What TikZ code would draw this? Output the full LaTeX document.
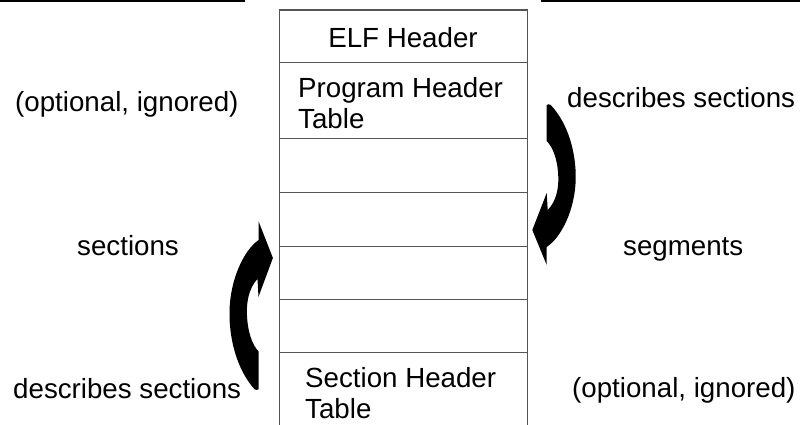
\documentclass[tikz,border=0pt]{standalone}
\usepackage{fontspec}
\setmainfont{Liberation Sans}
\definecolor{boxgray}{RGB}{85,85,85}
\tikzset{x=1pt,y=-1pt}
\tikzset{cell/.style={draw=boxgray,line width=1.4pt,minimum width=248pt,inner sep=0pt,anchor=north west}}
\tikzset{lbl/.style={inner sep=0pt,anchor=base west,font=\fontsize{27.7}{31}\selectfont}}
\tikzset{blocklbl/.style={inner sep=0pt,anchor=north west,align=left,font=\fontsize{27.7}{31}\selectfont}}
\tikzset{bentarrow/.pic={
	\fill (0,-124) .. controls (1,-125) and (3,-125) .. (4,-124) .. controls (22,-105) and (29.5,-75) .. (29,-50)
		.. controls (28.5,-20) and (15,8) .. (0,18) -- (0,36) -- (-14.4,1) -- (0,-36) -- (1,-19)
		.. controls (10,-28) and (12,-42) .. (11.6,-52) .. controls (11,-70) and (6,-82) .. (0,-88) -- cycle;
}}

\begin{document}
\begin{tikzpicture}
	\useasboundingbox (0,0) rectangle (800,425);
	% rule lines at the top
	\coordinate (ruleLa) at (0,1);
	\coordinate (ruleLb) at (245,1);
	\coordinate (ruleRa) at (541,1);
	\coordinate (ruleRb) at (800,1);
	\draw[line width=2pt] (ruleLa) -- (ruleLb);
	\draw[line width=2pt] (ruleRa) -- (ruleRb);
	% the file layout
	\node[cell,minimum height=52.2pt] (elf) at (279,9.5) {};
	\node[cell,minimum height=76.3pt] (pht) at (279,61.7) {};
	\node[cell,minimum height=54pt] (s1) at (279,138) {};
	\node[cell,minimum height=54pt] (s2) at (279,192) {};
	\node[cell,minimum height=53pt] (s3) at (279,246) {};
	\node[cell,minimum height=53pt] (s4) at (279,299) {};
	\node[cell,minimum height=90pt] (sht) at (279,352) {};
	\node[lbl,anchor=base] (elftext) at (403,48) {ELF Header};
	\node[blocklbl] (phttext) at (298,77.5) {Program Header\\Table};
	\node[blocklbl] (shttext) at (305,367.5) {Section Header\\Table};
	% side labels
	\node[lbl] (opttop) at (15,112) {(optional, ignored)};
	\node[lbl] (desctop) at (567,108) {describes sections};
	\node[lbl] (sect) at (77,255) {sections};
	\node[lbl] (segm) at (623,255) {segments};
	\node[lbl] (descbot) at (13,398) {describes sections};
	\node[lbl] (optbot) at (572,397) {(optional, ignored)};
	% curved arrows
	\pic at (546.7,229) {bentarrow};
	\pic[rotate=180,yscale=1.05] at (258.5,259) {bentarrow};
\end{tikzpicture}
\end{document}
